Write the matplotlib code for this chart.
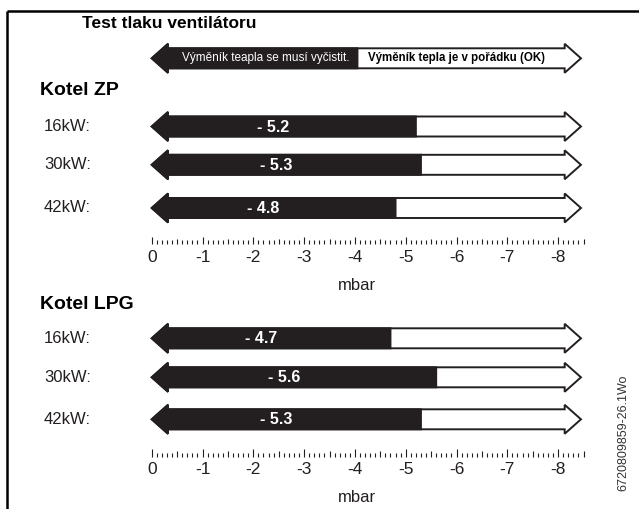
import numpy as np
import matplotlib
matplotlib.use("Agg")
import matplotlib.pyplot as plt
from matplotlib.patches import Polygon

plt.rcParams['font.family'] = ['Liberation Sans', 'DejaVu Sans']

# fan pressure test readings, mbar
row_labels = ["16kW:", "30kW:", "42kW:"]
zp_values = [-5.2, -5.3, -4.8]
lpg_values = [-4.7, -5.6, -5.3]

scale_ticks = [0, -1, -2, -3, -4, -5, -6, -7, -8]
scale_labels = ["0", "-1", "-2", "-3", "-4", "-5", "-6", "-7", "-8"]
scale_end = -8.5

title = "Test tlaku ventilátoru"
header_bad = "Výměník teapla se musí vyčistit."
header_ok = "Výměník tepla je v pořádku (OK)"
header_split = -4.05
sections = ["Kotel ZP", "Kotel LPG"]
doc_code = "6720809859-26.1Wo"

DARK = "#231f20"
W, H = 639, 509
ZERO_PX, UNIT_PX = 151.7, 50.8      # where 0 mbar sits and px per mbar
HEAD = 16.3 / UNIT_PX               # arrow head length in mbar
SHAFT, BARB = 10, 14.5              # half heights in px
ARROW_END = -8.45

fig = plt.figure(figsize=(W / 100, H / 100), dpi=100)

# data axes: x in mbar (0 on the left), y in px from the top
ax = fig.add_axes([0, 0, 1, 1])
ax.set_xlim(ZERO_PX / UNIT_PX, -(W - ZERO_PX) / UNIT_PX)
ax.set_ylim(H, 0)
ax.axis('off')

# layout axes in plain px for the frame and captions
lay = fig.add_axes([0, 0, 1, 1], facecolor='none')
lay.set_xlim(0, W)
lay.set_ylim(H, 0)
lay.axis('off')


def draw_arrow(yc, value):
    outline = [(0, yc), (-HEAD, yc - BARB), (-HEAD, yc - SHAFT),
               (ARROW_END + HEAD, yc - SHAFT), (ARROW_END + HEAD, yc - BARB),
               (ARROW_END, yc), (ARROW_END + HEAD, yc + BARB),
               (ARROW_END + HEAD, yc + SHAFT), (-HEAD, yc + SHAFT),
               (-HEAD, yc + BARB)]
    ax.add_patch(Polygon(outline, closed=True, facecolor='white',
                         edgecolor=DARK, lw=1.4, joinstyle='miter'))
    filled = [(0, yc), (-HEAD, yc - BARB), (-HEAD, yc - SHAFT),
              (value, yc - SHAFT), (value, yc + SHAFT),
              (-HEAD, yc + SHAFT), (-HEAD, yc + BARB)]
    ax.add_patch(Polygon(filled, closed=True, facecolor=DARK,
                         edgecolor=DARK, lw=1.4, joinstyle='miter'))


def draw_scale(base):
    ticks = np.round(np.arange(0, 86) * -0.1, 1)
    lengths = np.where(np.isclose(ticks % 1, 0), 7.5,
                       np.where(np.isclose(ticks % 0.5, 0), 5.5, 3.8))
    ax.vlines(ticks, base - lengths, base, color=DARK, lw=0.8)
    for t, lab in zip(scale_ticks, scale_labels):
        ax.text(t, base + 13, lab, ha='center', va='center',
                fontsize=12.5, color=DARK)
    ax.text(-4.05, base + 41, "mbar", ha='center', va='center',
            fontsize=12, color=DARK)


def draw_section(name, name_y, rows_y, values, scale_base):
    lay.text(40, name_y, name, ha='left', va='center', fontsize=14,
             fontweight='bold', color='black')
    for lab, yc, v in zip(row_labels, rows_y, values):
        lay.text(44, yc, lab, ha='left', va='center', fontsize=12,
                 color=DARK)
        draw_arrow(yc, v)
        ax.text(v / 2 + 0.2, yc + 0.5, f"- {abs(v):.1f}", ha='center',
                va='center', fontsize=11.5, fontweight='bold',
                color='white')
    draw_scale(scale_base)


# frame
lay.plot([7, W], [11, 11], color='black', lw=1.8, solid_capstyle='butt')
lay.plot([7, 7], [11, H], color='black', lw=1.8, solid_capstyle='butt')

lay.text(81.7, 23.5, title, ha='left', va='center', fontsize=12.5,
         fontweight='bold', color='black')

# header arrow
draw_arrow(58.3, header_split)
ax.text(-2.25, 57.5, header_bad, ha='center', va='center', fontsize=8.5,
        color='white')
ax.text(-6.0, 57.5, header_ok, ha='center', va='center', fontsize=8.3,
        fontweight='bold', color='black')

draw_section(sections[0], 90, [126.5, 164.8, 208], zp_values, 244)
draw_section(sections[1], 304.3, [338.3, 377.3, 419.3], lpg_values, 456.5)

lay.text(623, 433, doc_code, rotation=90, ha='center', va='center',
         fontsize=9, color='#333333')

fig.savefig("out.png", dpi=100)
